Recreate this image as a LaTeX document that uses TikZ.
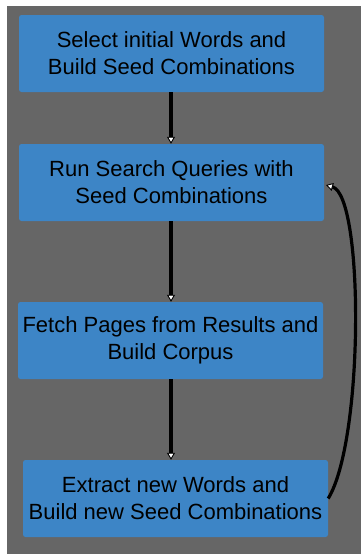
\documentclass[tikz,border=0pt]{standalone}
\usepackage{fontspec}
\setmainfont{Liberation Sans}
\usetikzlibrary{arrows.meta}
\definecolor{panelgray}{HTML}{666666}
\definecolor{stepblue}{HTML}{3D85C6}
\tikzset{
  stepbox/.style={draw=none, fill=stepblue, rounded corners=2.5pt,
    minimum width=305pt, minimum height=77pt, inner sep=0pt,
    align=center, text=black, font=\fontsize{22}{27}\selectfont},
  flow/.style={line width=3.2pt, draw=black,
    -{Triangle[fill=white, line width=0.9pt, length=7pt, width=8pt]}},
}
\begin{document}
\begin{tikzpicture}[x=1pt, y=-1pt]
  \useasboundingbox (0,0) rectangle (361,554);
  \fill[white] (0,0) rectangle (361,554);
  \fill[panelgray] (7,6) rectangle (361,554);

  \node[stepbox] (select)  at (171.5,53.5)  {Select initial Words and\\Build Seed Combinations};
  \node[stepbox] (search)  at (171.5,182.5) {Run Search Queries with\\Seed Combinations};
  \node[stepbox] (fetch)   at (170.5,340.5) {Fetch Pages from Results and\\Build Corpus};
  \node[stepbox] (extract) at (175.5,498.5) {Extract new Words and\\Build new Seed Combinations};

  \coordinate (loopin) at (326,185);

  \draw[flow] (select.south -| 171,0) -- (search.north -| 171,0);
  \draw[flow] (search.south -| 171,0) -- (fetch.north -| 171,0);
  \draw[flow] (fetch.south -| 171,0) -- (extract.north -| 171,0);
  \draw[flow] (extract.east) .. controls (364,440) and (364,196) .. (loopin);
\end{tikzpicture}
\end{document}
